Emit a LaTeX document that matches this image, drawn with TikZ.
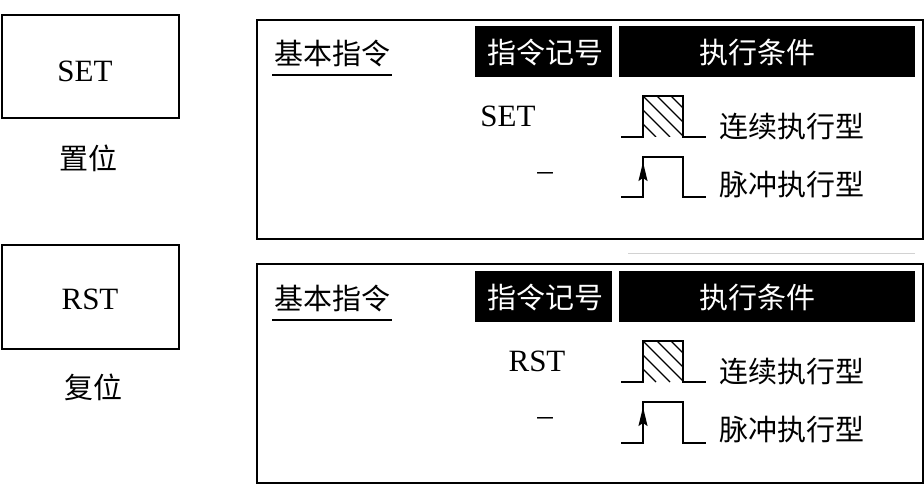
\documentclass[tikz,border=0pt]{standalone}
\usepackage{fontspec}
\setmainfont{Liberation Serif}
\newfontfamily\cjk{Noto Sans CJK SC}
\usetikzlibrary{arrows.meta}
\begin{document}
\begin{tikzpicture}[x=1pt,y=-1pt,
  lat/.style={font=\fontsize{31}{35}\selectfont, inner sep=0pt},
  zh/.style={font=\cjk\fontsize{29}{34}\selectfont, inner sep=0pt},
  frame/.style={draw, line width=1.6pt, anchor=north west, inner sep=0pt},
  hdr/.style={fill=black, draw=none, anchor=north west, inner sep=0pt},
  hdrtxt/.style={zh, text=white},
  wave/.style={line width=2pt, line join=miter},
  hatch/.style={line width=1.3pt},
  edgearrow/.style={-{Stealth[length=19pt,width=9pt,inset=3pt]}, line width=1.6pt}]
\useasboundingbox (0,0) rectangle (924,484);

% ---------- left boxes ----------
\node[frame, minimum width=177pt, minimum height=103pt] (setbox) at (1,14) {};
\node[lat, anchor=base] (settxt) at (85,82) {SET};
\node[zh] (setlbl) at (88,158) {置位};

\node[frame, minimum width=177pt, minimum height=104pt] (rstbox) at (1,244) {};
\node[lat, anchor=base] (rsttxt) at (90,309) {RST};
\node[zh] (rstlbl) at (93,387) {复位};

% ---------- panel 1 ----------
\node[frame, minimum width=666pt, minimum height=219pt] (p1) at (256,19) {};
\node[zh] (p1basic) at (332,53) {基本指令};
\draw[line width=2pt] (272,75) -- (392,75);
\node[hdr, minimum width=137pt, minimum height=51pt] (p1ha) at (475,26) {};
\node[hdr, minimum width=296pt, minimum height=51pt] (p1hb) at (619,26) {};
\node[hdrtxt] (p1hat) at (545,52) {指令记号};
\node[hdrtxt] (p1hbt) at (757,52) {执行条件};
\node[lat, anchor=base] (p1cmd) at (508,127) {SET};
\node[lat, anchor=base] (p1dash) at (545,180) {–};
\begin{scope}
  \clip (643,96) rectangle (683,137);
  \foreach \k in {-3,...,3} \draw[hatch] ({643+\k*14},96) -- ++(41,41);
\end{scope}
\draw[wave] (621,137) -- (643,137) -- (643,96) -- (683,96) -- (683,137) -- (706,137);
\draw[wave] (621,197) -- (643,197) -- (643,157) -- (683,157) -- (683,197) -- (706,197);
\draw[edgearrow] (643,190) -- (643,162);
\node[zh] (p1cont) at (792,127) {连续执行型};
\node[zh] (p1puls) at (792,185) {脉冲执行型};

\draw[gray!35, line width=1pt] (628,253) -- (915,253);

% ---------- panel 2 ----------
\node[frame, minimum width=666pt, minimum height=219pt] (p2) at (256,263) {};
\node[zh] (p2basic) at (332,298) {基本指令};
\draw[line width=2pt] (272,320) -- (392,320);
\node[hdr, minimum width=137pt, minimum height=51pt] (p2ha) at (475,271) {};
\node[hdr, minimum width=296pt, minimum height=51pt] (p2hb) at (619,271) {};
\node[hdrtxt] (p2hat) at (545,297) {指令记号};
\node[hdrtxt] (p2hbt) at (757,297) {执行条件};
\node[lat, anchor=base] (p2cmd) at (537,371) {RST};
\node[lat, anchor=base] (p2dash) at (545,425) {–};
\begin{scope}
  \clip (643,341) rectangle (683,382);
  \foreach \k in {-3,...,3} \draw[hatch] ({643+\k*14},341) -- ++(41,41);
\end{scope}
\draw[wave] (621,382) -- (643,382) -- (643,341) -- (683,341) -- (683,382) -- (706,382);
\draw[wave] (621,443) -- (643,443) -- (643,402) -- (683,402) -- (683,443) -- (706,443);
\draw[edgearrow] (643,435) -- (643,407);
\node[zh] (p2cont) at (792,372) {连续执行型};
\node[zh] (p2puls) at (792,430) {脉冲执行型};
\end{tikzpicture}
\end{document}
